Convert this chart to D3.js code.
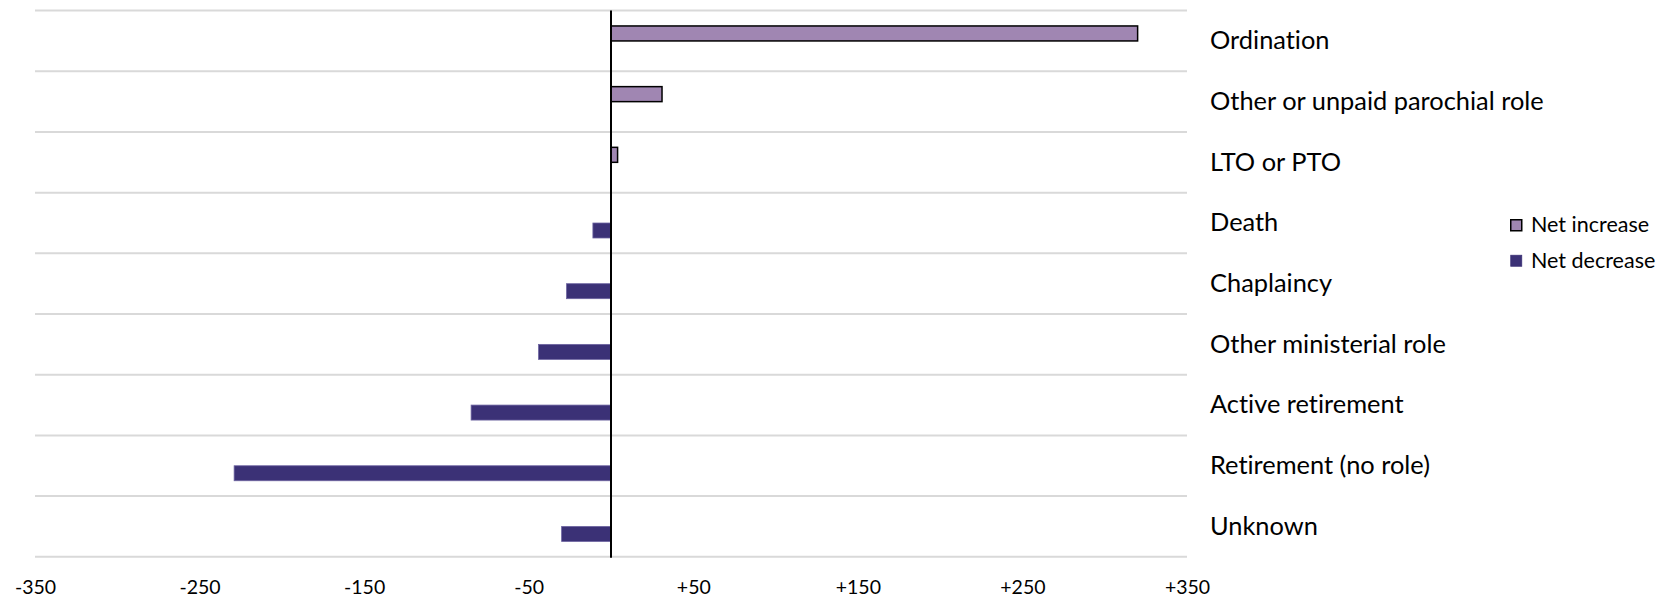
<!DOCTYPE html>
<html>
<head>
<meta charset="utf-8">
<script src="https://cdn.jsdelivr.net/npm/d3@7"></script>
<style>
html,body{margin:0;padding:0;background:#fff;}
svg{display:block;}
text{font-family:"Lato","Noto Sans",sans-serif;fill:#000;font-variant-ligatures:none;font-feature-settings:"liga" 0,"dlig" 0;}
</style>
</head>
<body>
<svg id="chart" width="1666" height="599"></svg>
<script>
const categories = ["Ordination","Other or unpaid parochial role","LTO or PTO","Death","Chaplaincy","Other ministerial role","Active retirement","Retirement (no role)","Unknown"];
const netIncrease = [320, 31, 4, 0, 0, 0, 0, 0, 0];
const netDecrease = [0, 0, 0, -11, -27, -44, -85, -229, -30];
const seriesNames = ["Net increase","Net decrease"];
const tickValues = [-350,-250,-150,-50,50,150,250,350];
const tickLabels = ["-350","-250","-150","-50","+50","+150","+250","+350"];

const W = 1666, H = 599;
const plot = {left: 35, right: 1187, top: 10.6, bottom: 556.8};
const svg = d3.select("#chart");

const x = d3.scaleLinear().domain([-350, 350]).range([plot.left, plot.right]);
const y = d3.scaleBand().domain(categories).range([plot.top, plot.bottom]).paddingInner(0).paddingOuter(0);

const colInc = "#a086b2", colDec = "#3b3176";

// gridlines at band boundaries
const bounds = categories.map(c => y(c)).concat([y(categories[categories.length-1]) + y.bandwidth()]);
svg.append("g").selectAll("line").data(bounds).join("line")
  .attr("x1", plot.left).attr("x2", plot.right)
  .attr("y1", d => d).attr("y2", d => d)
  .attr("stroke", "#d9d9d9").attr("stroke-width", 2);

const barH = y.bandwidth() / 4.05;

// increase bars (upper half of band centre)
svg.append("g").selectAll("rect").data(categories.map((c,i)=>({c, v: netIncrease[i]})).filter(d=>d.v!==0))
  .join("rect")
  .attr("x", d => x(0))
  .attr("y", d => y(d.c) + y.bandwidth()/2 - barH)
  .attr("width", d => x(d.v) - x(0))
  .attr("height", barH)
  .attr("fill", colInc).attr("stroke", "#000").attr("stroke-width", 1.5);

// decrease bars (lower half)
svg.append("g").selectAll("rect").data(categories.map((c,i)=>({c, v: netDecrease[i]})).filter(d=>d.v!==0))
  .join("rect")
  .attr("x", d => x(d.v))
  .attr("y", d => y(d.c) + y.bandwidth()/2)
  .attr("width", d => x(0) - x(d.v))
  .attr("height", barH)
  .attr("fill", colDec).attr("stroke", "#6c63a0").attr("stroke-width", 0.8);

// zero line
svg.append("line")
  .attr("x1", x(0)).attr("x2", x(0))
  .attr("y1", plot.top).attr("y2", plot.bottom + 1)
  .attr("stroke", "#000").attr("stroke-width", 2);

// x axis labels
const xAxis = d3.axisBottom(x).tickValues(tickValues).tickFormat((d,i)=>tickLabels[i]).tickSize(0).tickPadding(0);
const gx = svg.append("g").attr("transform", `translate(0,${plot.bottom})`).call(xAxis);
gx.select(".domain").remove();
gx.selectAll("text").attr("font-size", 19.5).attr("font-family", "Lato, 'Noto Sans', sans-serif")
  .attr("fill", "#000").attr("dy", null).attr("y", 37.5);

// category labels at right
svg.append("g").selectAll("text").data(categories).join("text")
  .attr("x", 1210)
  .attr("y", d => y(d) + y.bandwidth()/2 + 8.3)
  .attr("font-size", 25.4)
  .text(d => d);

// legend
const leg = svg.append("g").attr("transform", "translate(1510,219)");
const legColors = [colInc, colDec];
seriesNames.forEach((n,i) => {
  const g = leg.append("g").attr("transform", `translate(0,${i*35.5})`);
  g.append("rect").attr("x", 0.75).attr("y", 0.75).attr("width", 11).attr("height", 11)
    .attr("fill", legColors[i]).attr("stroke", i===0 ? "#000" : colDec).attr("stroke-width", i===0?1.5:0.8);
  g.append("text").attr("x", 21).attr("y", 13).attr("font-size", 21.5).text(n);
});
</script>
</body>
</html>
